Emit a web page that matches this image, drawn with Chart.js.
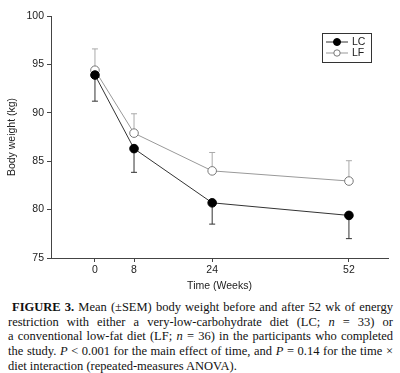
<!DOCTYPE html>
<html>
<head>
<meta charset="utf-8">
<script src="https://cdn.jsdelivr.net/npm/chart.js@4"></script>
<style>
html,body{margin:0;padding:0;background:#fff;}
#wrap{position:relative;width:400px;height:373px;overflow:hidden;}
#cv{position:absolute;left:0;top:0;}
#cap{position:absolute;left:8px;top:300px;width:385px;font-family:"Liberation Serif","Times New Roman",serif;font-size:12.5px;line-height:14.7px;color:#111;}
#cap .j{text-align:justify;text-align-last:justify;white-space:nowrap;}
#cap .j1{padding-left:4px;}
</style>
</head>
<body>
<div id="wrap">
<canvas id="cv" width="400" height="295" style="width:400px;height:295px"></canvas>
<div id="cap">
<div class="j j1"><b>FIGURE 3.</b> Mean (±SEM) body weight before and after 52 wk of energy</div>
<div class="j">restriction with either a very-low-carbohydrate diet (LC; <i>n</i> = 33) or</div>
<div class="j">a conventional low-fat diet (LF; <i>n</i> = 36) in the participants who completed</div>
<div class="j">the study. <i>P</i> &lt; 0.001 for the main effect of time, and <i>P</i> = 0.14 for the time ×</div>
<div>diet interaction (repeated-measures ANOVA).</div>
</div>
</div>
<script>
const weeks = [0, 8, 24, 52];
const lcMean = [93.9, 86.3, 80.7, 79.4];
const lcSem  = [2.7, 2.45, 2.2, 2.4];
const lfMean = [94.4, 87.9, 84.0, 82.95];
const lfSem  = [2.2, 2.0, 1.9, 2.1];
const yTicks = [75, 80, 85, 90, 95, 100];
const seriesNames = ['LC', 'LF'];

const axisColor = '#444';
const tickFont = {family: 'Liberation Sans, Arial, sans-serif', size: 10.5};

const errorBars = {
  id: 'errorBars',
  beforeDatasetsDraw(chart) {
    const ctx = chart.ctx;
    const y = chart.scales.y;
    const specs = [
      {sem: lcSem, dir: -1, color: '#333'},
      {sem: lfSem, dir: 1, color: '#aaa'}
    ];
    specs.forEach((s, di) => {
      const meta = chart.getDatasetMeta(di);
      const vals = chart.data.datasets[di].data;
      ctx.save();
      ctx.strokeStyle = s.color;
      ctx.lineWidth = 1;
      meta.data.forEach((pt, i) => {
        const yEnd = y.getPixelForValue(vals[i].y + s.dir * s.sem[i]);
        ctx.beginPath();
        ctx.moveTo(pt.x, pt.y);
        ctx.lineTo(pt.x, yEnd);
        ctx.moveTo(pt.x - 3, yEnd);
        ctx.lineTo(pt.x + 3, yEnd);
        ctx.stroke();
      });
      ctx.restore();
    });
  }
};

const legendBox = {
  id: 'legendBox',
  afterDraw(chart) {
    const ctx = chart.ctx;
    const ds = chart.data.datasets;
    const x0 = 322.5, y0 = 33.5, w = 49, h = 29;
    ctx.save();
    ctx.strokeStyle = '#333';
    ctx.lineWidth = 1;
    ctx.strokeRect(x0, y0, w, h);
    ds.forEach((d, i) => {
      const cy = 42 + i * 11;
      ctx.strokeStyle = d.borderColor;
      ctx.lineWidth = 1;
      ctx.beginPath();
      ctx.moveTo(326, cy);
      ctx.lineTo(348, cy);
      ctx.stroke();
      ctx.beginPath();
      ctx.arc(337, cy, i === 0 ? 3.5 : 3.2, 0, Math.PI * 2);
      ctx.fillStyle = d.pointBackgroundColor;
      ctx.fill();
      ctx.strokeStyle = d.pointBorderColor;
      ctx.stroke();
      ctx.fillStyle = '#222';
      ctx.font = '10.5px "Liberation Sans", Arial, sans-serif';
      ctx.textBaseline = 'middle';
      ctx.fillText(d.label, 352, cy + 0.5);
    });
    ctx.restore();
  }
};

new Chart(document.getElementById('cv'), {
  type: 'line',
  data: {
    datasets: [
      {
        label: seriesNames[0],
        data: weeks.map((w, i) => ({x: w, y: lcMean[i]})),
        borderColor: '#333',
        borderWidth: 1,
        pointRadius: 4.3,
        pointBackgroundColor: '#000',
        pointBorderColor: '#000',
        pointBorderWidth: 1,
        tension: 0
      },
      {
        label: seriesNames[1],
        data: weeks.map((w, i) => ({x: w, y: lfMean[i]})),
        borderColor: '#999',
        borderWidth: 1,
        pointRadius: 4.3,
        pointBackgroundColor: '#fff',
        pointBorderColor: '#777',
        pointBorderWidth: 1,
        tension: 0
      }
    ]
  },
  options: {
    responsive: false,
    animation: false,
    devicePixelRatio: 1,
    layout: {padding: {top: 16, right: 12, left: 0, bottom: 0}},
    plugins: {legend: {display: false}, tooltip: {enabled: false}},
    scales: {
      x: {
        type: 'linear',
        min: -9,
        max: 60,
        afterBuildTicks: s => { s.ticks = weeks.map(v => ({value: v})); },
        afterFit: s => { s.height = 37; },
        grid: {display: true, drawOnChartArea: false, drawTicks: true, tickLength: 4, color: axisColor},
        border: {display: true, color: axisColor, width: 1},
        ticks: {font: tickFont, color: '#222', padding: 2, maxRotation: 0},
        title: {display: true, text: 'Time (Weeks)', font: tickFont, color: '#222', padding: {top: 0, bottom: 3}}
      },
      y: {
        min: 75,
        max: 100,
        afterBuildTicks: s => { s.ticks = yTicks.map(v => ({value: v})); },
        afterFit: s => { s.width = 51; },
        grid: {display: true, drawOnChartArea: false, drawTicks: true, tickLength: 4, color: axisColor},
        border: {display: true, color: axisColor, width: 1},
        ticks: {font: tickFont, color: '#222', padding: 3},
        title: {display: true, text: 'Body weight (kg)', font: tickFont, color: '#222', padding: {top: 6, bottom: 0}}
      }
    }
  },
  plugins: [errorBars, legendBox]
});
</script>
</body>
</html>
